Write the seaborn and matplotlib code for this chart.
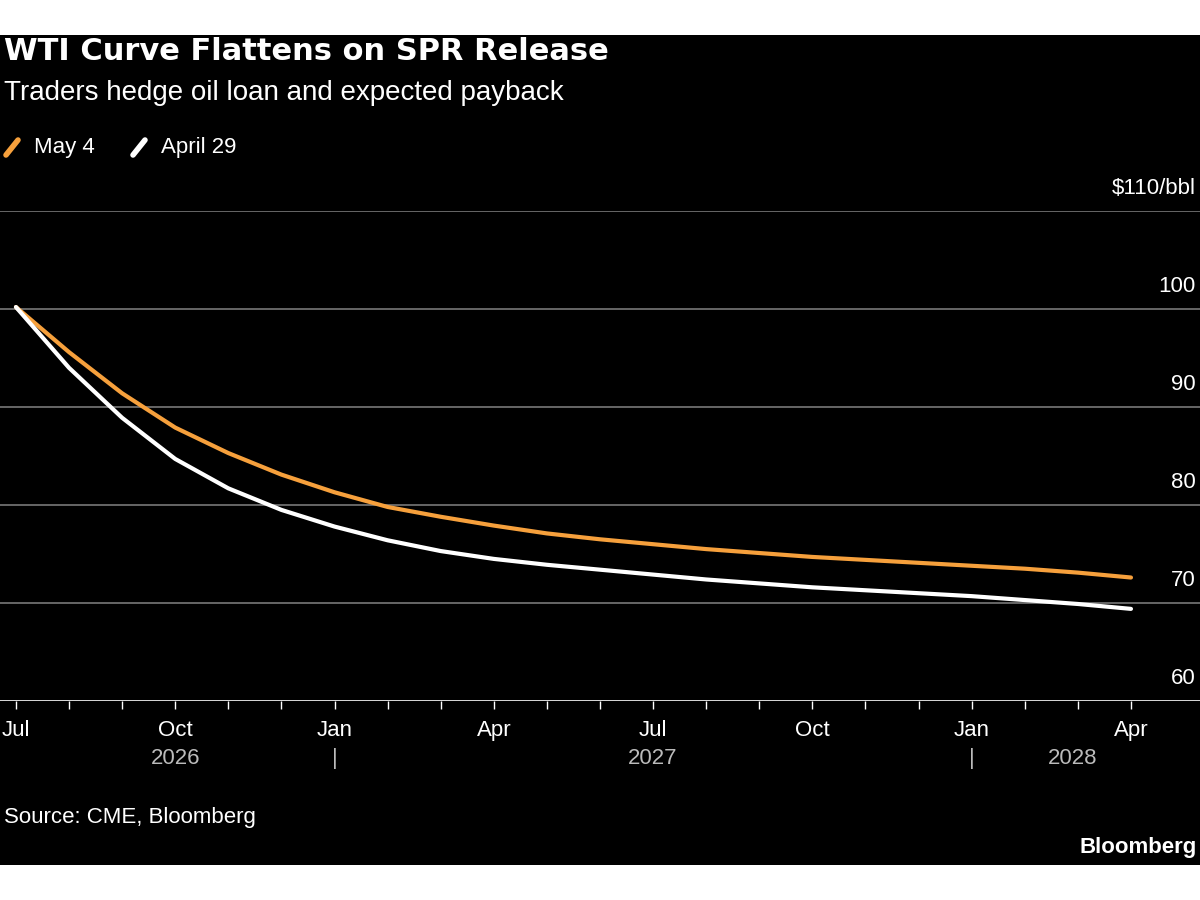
import matplotlib
matplotlib.use("Agg")
import matplotlib.pyplot as plt
import seaborn as sns
import pandas as pd
from matplotlib.patches import Rectangle

months = pd.date_range("2026-07-01", "2028-04-01", freq="MS")
may4 = [100.2, 95.6, 91.4, 87.9, 85.3, 83.1, 81.3, 79.8, 78.8, 77.9, 77.1, 76.5,
        76.0, 75.5, 75.1, 74.7, 74.4, 74.1, 73.8, 73.5, 73.1, 72.6]
apr29 = [100.2, 94.0, 88.9, 84.7, 81.7, 79.5, 77.8, 76.4, 75.3, 74.5, 73.9, 73.4,
         72.9, 72.4, 72.0, 71.6, 71.3, 71.0, 70.7, 70.3, 69.9, 69.4]
yticks = [60, 70, 80, 90, 100, 110]
ytick_labels = ["60", "70", "80", "90", "100", "$110/bbl"]

idx = list(range(len(months)))
df = pd.DataFrame({"m": idx * 2, "v": may4 + apr29,
                   "s": ["May 4"] * len(idx) + ["April 29"] * len(idx)})

sns.set_style("dark")
plt.rcParams['font.family'] = ['Liberation Sans', 'DejaVu Sans']
fig = plt.figure(figsize=(12, 9), dpi=100)
fig.patch.set_facecolor("white")
fig.patches.append(Rectangle((0, 35/900), 1, 830/900, transform=fig.transFigure,
                             facecolor="black", edgecolor="none", zorder=-10))
ax = fig.add_axes([0, 1-701/900, 1, 490/900])
ax.set_facecolor("black")
sns.lineplot(data=df, x="m", y="v", hue="s", palette={"May 4": "#f6a03c", "April 29": "white"},
             linewidth=3, ax=ax, legend=False)
ax.set_xlim(-0.3, 22.3)
ax.set_ylim(60, 110)
for s in ax.spines.values():
    s.set_visible(False)
ax.axhline(60, color="white", lw=1.2, zorder=1)
for y, lab in zip(yticks, ytick_labels):
    if y > 60:
        ax.axhline(y, color="#777777", lw=1.2, zorder=0)
    ax.text(22.3 - 0.08, y + 1.2, lab, color="white", ha="right", va="bottom", fontsize=16)
ax.set_yticks([])
ax.set_xticks(idx, minor=True)
major = [i for i, d in enumerate(months) if d.month in (1, 4, 7, 10)]
ax.set_xticks(major)
ax.set_xticklabels([months[i].strftime("%b") for i in major])
ax.tick_params(axis="x", which="both", colors="white", labelcolor="white", labelsize=16,
               length=6, width=1, direction="out", bottom=True)
ax.tick_params(axis="x", which="major", pad=8)
ax.set_xlabel(""); ax.set_ylabel("")
ax.grid(False)
yr = ax.get_xaxis_transform()
for x, t in [(3, "2026"), (12, "2027"), (19.9, "2028")]:
    ax.text(x, -0.095, t, color="#bbbbbb", ha="center", va="top", fontsize=16, transform=yr)
for x in [6, 18]:
    ax.text(x, -0.095, "|", color="#bbbbbb", ha="center", va="top", fontsize=16, transform=yr)

fig.text(0.003, 1-52/900, "WTI Curve Flattens on SPR Release", color="white", fontsize=22,
         fontweight="bold", va="center", family=["DejaVu Sans"])
fig.text(0.003, 1-93/900, "Traders hedge oil loan and expected payback", color="white",
         fontsize=20, va="center")
fig.lines.append(plt.Line2D([6/1200, 18/1200], [1-155/900, 1-140/900], transform=fig.transFigure,
                            color="#f6a03c", lw=4))
fig.text(34/1200, 1-147/900, "May 4", color="white", fontsize=16, va="center")
fig.lines.append(plt.Line2D([133/1200, 145/1200], [1-155/900, 1-140/900], transform=fig.transFigure,
                            color="white", lw=4))
fig.text(161/1200, 1-147/900, "April 29", color="white", fontsize=16, va="center")
fig.text(0.003, 1-817/900, "Source: CME, Bloomberg", color="white", fontsize=16, va="center")
fig.text(0.997, 1-848/900, "Bloomberg", color="white", fontsize=16, fontweight="bold",
         ha="right", va="center")
fig.savefig("out.png", dpi=100, facecolor=fig.get_facecolor())
